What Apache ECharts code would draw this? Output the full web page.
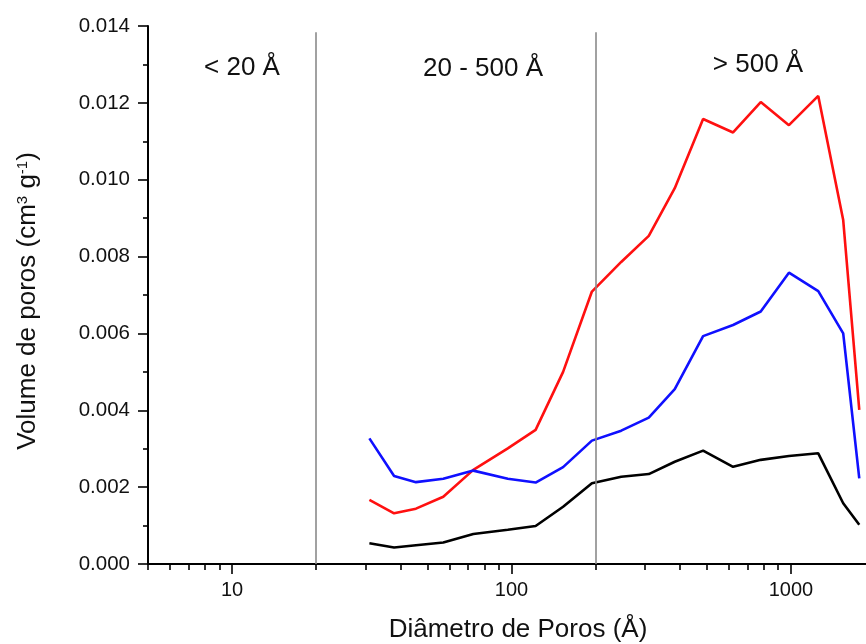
<!DOCTYPE html>
<html>
<head>
<meta charset="utf-8">
<script src="https://cdn.jsdelivr.net/npm/echarts@6/dist/echarts.min.js"></script>
<style>
  html, body { margin: 0; padding: 0; background: #fff; overflow: hidden; }
  #chart { width: 866px; height: 644px; }
</style>
</head>
<body>
<div id="chart"></div>
<script>
// Pore diameter (Å) of each BJH point
const poreDiameter = [31, 38, 45.5, 57, 73, 97, 122, 153, 194, 247, 310, 384, 485, 621, 780, 984, 1253, 1539, 1757];

// Pore volume (cm³ g⁻¹) per sample
const volumeRed   = [0.00167, 0.00132, 0.00144, 0.00175, 0.00245, 0.00301, 0.00349, 0.00500, 0.00709, 0.00786,
                     0.00854, 0.00978, 0.01158, 0.01123, 0.01202, 0.01142, 0.01218, 0.00895, 0.00401];
const volumeBlue  = [0.00327, 0.00229, 0.00213, 0.00222, 0.00243, 0.00222, 0.00212, 0.00252, 0.00321, 0.00347,
                     0.00381, 0.00455, 0.00593, 0.00622, 0.00657, 0.00758, 0.00710, 0.00600, 0.00223];
const volumeBlack = [0.00054, 0.00043, 0.00049, 0.00056, 0.00078, 0.00089, 0.00099, 0.00149, 0.00210, 0.00227,
                     0.00234, 0.00266, 0.00295, 0.00253, 0.00271, 0.00281, 0.00288, 0.00158, 0.00102];

// Axis ticks
const majorTicks = [10, 100, 1000];
const minorTicks = [5, 6, 7, 8, 9, 20, 30, 40, 50, 60, 70, 80, 90, 200, 300, 400, 500, 600, 700, 800, 900];
const xRange = [5, 2000];
const yRange = [0, 0.014];
const yStep = 0.002;

// Pore-size region boundaries and their captions
const regionBounds = [20, 200];
const regionLabels = ['< 20 Å', '20 - 500 Å', '> 500 Å'];

const FONT = 'Liberation Sans, Arial, Helvetica, sans-serif';
const INK = '#111';

const chart = echarts.init(document.getElementById('chart'), null, { renderer: 'canvas' });

const toPairs = ys => poreDiameter.map((x, i) => [x, ys[i]]);

function lineSeries(name, ys, color, extra) {
  return Object.assign({
    name,
    type: 'line',
    data: toPairs(ys),
    showSymbol: false,
    symbol: 'none',
    lineStyle: { color, width: 2.6 },
    itemStyle: { color },
    clip: true,
    silent: true
  }, extra || {});
}

const option = {
  animation: false,
  backgroundColor: '#fff',
  // the x axis runs on past the right edge of the canvas (up to 2000 Å)
  grid: { left: 148, width: 727, top: 26, bottom: 80, containLabel: false, outerBoundsMode: 'none' },
  xAxis: [
    {
      type: 'log', logBase: 10, min: xRange[0], max: xRange[1],
      axisLine: { show: true, lineStyle: { color: '#000', width: 2 } },
      axisTick: { show: true, customValues: majorTicks, length: 10, lineStyle: { color: '#000', width: 1.6 } },
      axisLabel: {
        show: true, customValues: majorTicks, fontSize: 20, fontFamily: FONT, color: INK, margin: 16,
        formatter: v => String(Math.round(v))
      },
      splitLine: { show: false },
      minorTick: { show: false },
      minorSplitLine: { show: false }
    },
    {
      type: 'log', logBase: 10, min: xRange[0], max: xRange[1], position: 'bottom',
      axisLine: { show: false },
      axisTick: { show: true, customValues: minorTicks, length: 6, lineStyle: { color: '#000', width: 1.6 } },
      axisLabel: { show: false },
      splitLine: { show: false }
    }
  ],
  yAxis: {
    type: 'value', min: yRange[0], max: yRange[1], interval: yStep,
    axisLine: { show: true, lineStyle: { color: '#000', width: 2 } },
    axisTick: { show: true, length: 10, lineStyle: { color: '#000', width: 1.6 } },
    minorTick: { show: true, splitNumber: 2, length: 5, lineStyle: { color: '#000', width: 1.6 } },
    axisLabel: { fontSize: 20.5, fontFamily: FONT, color: INK, margin: 18, formatter: v => v.toFixed(3) },
    splitLine: { show: false }
  },
  series: [
    lineSeries('Amostra 1', volumeRed, '#ff1010', {
      markLine: {
        silent: true,
        symbol: ['none', 'none'],
        label: { show: false },
        lineStyle: { color: '#8a8a8a', width: 1.6, type: 'solid' },
        emphasis: { disabled: true },
        data: regionBounds.map(v => [{ coord: [v, yRange[0]] }, { coord: [v, 0.01384] }])
      }
    }),
    lineSeries('Amostra 2', volumeBlue, '#1010ff'),
    lineSeries('Amostra 3', volumeBlack, '#000000')
  ],
  graphic: [
    { type: 'text', x: 242, y: 68, silent: true,
      style: { text: regionLabels[0], fontSize: 26, fontFamily: FONT, fill: INK, align: 'center', verticalAlign: 'middle' } },
    { type: 'text', x: 483, y: 68.5, silent: true,
      style: { text: regionLabels[1], fontSize: 26, fontFamily: FONT, fill: INK, align: 'center', verticalAlign: 'middle' } },
    { type: 'text', x: 758, y: 65, silent: true,
      style: { text: regionLabels[2], fontSize: 26, fontFamily: FONT, fill: INK, align: 'center', verticalAlign: 'middle' } },
    { type: 'text', x: 518, y: 630, silent: true,
      style: { text: 'Diâmetro de Poros (Å)', fontSize: 26, fontFamily: FONT, fill: INK, align: 'center', verticalAlign: 'middle' } },
    { type: 'text', x: 28, y: 301, rotation: Math.PI / 2, silent: true,
      style: {
        text: 'Volume de poros (cm{sup|3} g{sup|-1})',
        fontSize: 26, fontFamily: FONT, fill: INK, align: 'center', verticalAlign: 'middle',
        rich: { sup: { fontSize: 15, fontFamily: FONT, fill: INK, verticalAlign: 'top' } }
      } }
  ]
};

chart.setOption(option);
</script>
</body>
</html>
